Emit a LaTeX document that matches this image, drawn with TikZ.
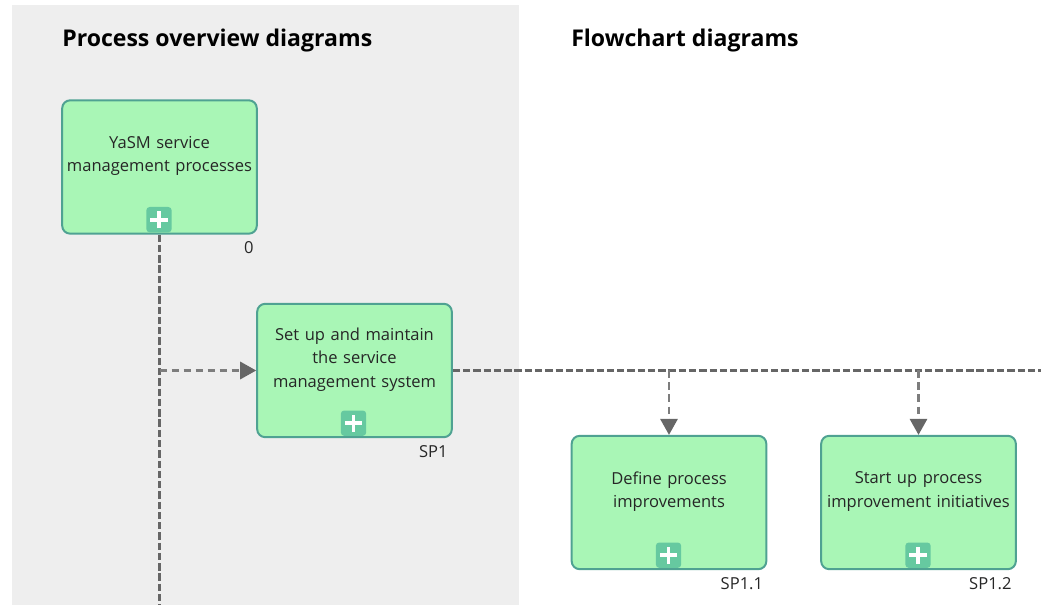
\documentclass[tikz,border=0pt]{standalone}
\usepackage{fontspec}
\setmainfont{Open Sans}
\usepackage{xcolor}
\usetikzlibrary{positioning, calc, arrows.meta}
\definecolor{boxfill}{HTML}{A9F6B6}
\definecolor{boxline}{HTML}{4FA292}
\definecolor{plusfill}{HTML}{66C9A0}
\definecolor{panelgray}{HTML}{EEEEEE}
\definecolor{linegray}{HTML}{666666}
\tikzstyle{process} = [rectangle, rounded corners=6pt, minimum width=146pt, minimum height=100pt, inner sep=0pt, text width=146pt, align=center, fill=boxfill, draw=boxline, line width=1.5pt, font=\fontsize{12.4}{17.6}\selectfont, text=black!85]
\tikzstyle{plusbox} = [rectangle, rounded corners=2.5pt, minimum size=19pt, inner sep=0pt, fill=plusfill, path picture={\draw[white, line width=2.8pt] ($(path picture bounding box.center)+(-6.5pt,0)$) -- ($(path picture bounding box.center)+(6.5pt,0)$); \draw[white, line width=2.8pt] ($(path picture bounding box.center)+(0,-6.5pt)$) -- ($(path picture bounding box.center)+(0,6.5pt)$);}]
\tikzstyle{number} = [anchor=north east, inner sep=0pt, font=\fontsize{12.4}{14}\selectfont, text=black!85]
\tikzstyle{heading} = [anchor=west, inner sep=0pt, font=\fontsize{17.3}{20}\selectfont\bfseries, text=black]
\tikzstyle{trunk} = [draw=linegray, line width=2.6pt, dash pattern=on 5.5pt off 2.2pt]
\tikzstyle{arrow} = [draw=linegray!85, line width=1.6pt, dash pattern=on 5.5pt off 3.5pt, -{Triangle[length=12pt,width=13pt,color=linegray]}]

\begin{document}
\begin{tikzpicture}[x=0.75pt,y=-0.75pt]
	\useasboundingbox (0,0) rectangle (1041,605);
	\fill[panelgray] (12,5) rectangle (519,605);
	\node (overview) [heading] at (62,41) {Process overview diagrams};
	\node (flowchart) [heading] at (571,41) {Flowchart diagrams};
	\node (yasm) [process] at (159.5,167) {YaSM service\\management processes\\[2pt] \mbox{}};
	\node (sp1) [process] at (354.5,370.5) {Set up and maintain\\the service\\management system\\[2pt] \mbox{}};
	\node (sp11) [process] at (669,502.5) {Define process\\improvements\\[2pt] \mbox{}};
	\node (sp12) [process] at (918.5,502.5) {Start up process\\improvement initiatives\\[2pt] \mbox{}};
	\node (plus0) [plusbox] at ($(yasm.south)+(-0.5,-15)$) {};
	\node (plus1) [plusbox] at ($(sp1.south)+(-1,-15)$) {};
	\node (plus11) [plusbox] at ($(sp11.south)+(-0.5,-15)$) {};
	\node (plus12) [plusbox] at ($(sp12.south)+(-0.5,-15)$) {};
	\node (num0) [number] at ($(yasm.south east)+(-4,7)$) {0};
	\node (num1) [number] at ($(sp1.south east)+(-5,7)$) {SP1};
	\node (num11) [number] at ($(sp11.south east)+(-4,7)$) {SP1.1};
	\node (num12) [number] at ($(sp12.south east)+(-5,7)$) {SP1.2};
	\coordinate (down) at (159.5,605);
	\coordinate (right) at (1041,370.5);
	\draw [trunk](yasm.south) -- (down);
	\draw [trunk](sp1.east) -- (right);
	\draw [arrow](yasm.south |- sp1.west) -- (sp1.west);
	\draw [arrow](sp11.north |- right) -- (sp11.north);
	\draw [arrow](sp12.north |- right) -- (sp12.north);
\end{tikzpicture}
\end{document}
